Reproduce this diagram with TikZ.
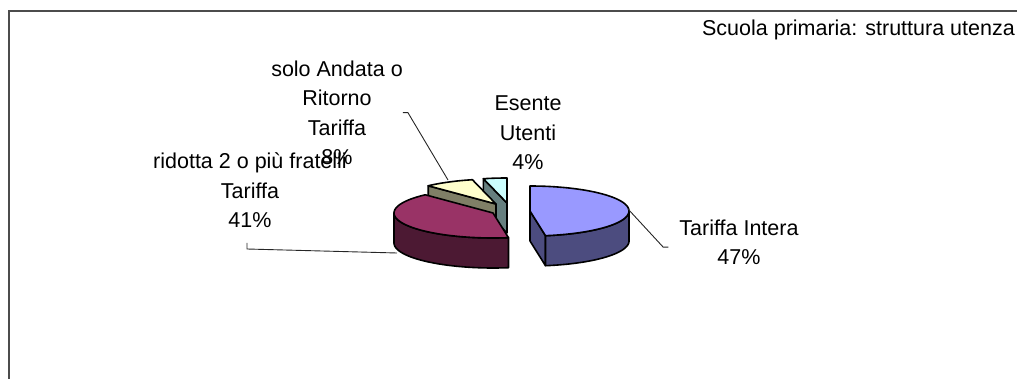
\documentclass[tikz,border=0pt]{standalone}
\usepackage{fontspec}
\setmainfont{Liberation Sans}

\definecolor{topblue}{HTML}{9999FF}
\definecolor{sideblue}{HTML}{4C4C7F}
\definecolor{topred}{HTML}{993366}
\definecolor{sidered}{HTML}{4C1933}
\definecolor{topyellow}{HTML}{FFFFCC}
\definecolor{sideyellow}{HTML}{7F7F66}
\definecolor{topcyan}{HTML}{CCFFFF}
\definecolor{sidecyan}{HTML}{667F7F}

\tikzset{
  slice/.style={draw=black, line width=1.6pt, line join=round},
  leader/.style={draw=black!85, line width=0.9pt},
  lbl/.style={font=\fontsize{21.5}{29.5}\selectfont, align=center, inner sep=0pt, anchor=south},
  frame/.style={draw=black!70, line width=1.3pt}
}

\begin{document}
\begin{tikzpicture}[x=1pt, y=-1pt]
	\useasboundingbox (0,0) rectangle (1017,379);

	% Define radii and depth of the pie
	\def\rx{99}
	\def\ry{25}
	\def\h{30}

	% Draw the frame
	\draw[frame] (1017,11) -- (9,11) -- (9,379);

	% Cyan slice (Esente Utenti)
	\def\cx{507}\def\cy{203}
	\filldraw[slice, fill=sidecyan] (\cx,\cy) -- ({\cx+\rx*sin(346.2)},{\cy-\ry*cos(346.2)}) -- ++(0,\h) -- (\cx,\cy+\h) -- cycle;
	\filldraw[slice, fill=topcyan] (\cx,\cy) -- plot[domain=346.2:360, samples=10, variable=\t] ({\cx+\rx*sin(\t)},{\cy-\ry*cos(\t)}) -- cycle;

	% Yellow slice (solo Andata o Ritorno)
	\def\cx{496}\def\cy{204}
	\filldraw[slice, fill=sideyellow] (\cx,\cy) -- ({\cx+\rx*sin(316.8)},{\cy-\ry*cos(316.8)}) -- ++(0,\h) -- (\cx,\cy+\h) -- cycle;
	\filldraw[slice, fill=topyellow] (\cx,\cy) -- plot[domain=316.8:346.2, samples=15, variable=\t] ({\cx+\rx*sin(\t)},{\cy-\ry*cos(\t)}) -- cycle;

	% Red slice (ridotta 2 o piu fratelli)
	\def\cx{493}\def\cy{213}
	\filldraw[slice, fill=sidered] plot[domain=171:270, samples=40, variable=\t] ({\cx+\rx*sin(\t)},{\cy-\ry*cos(\t)}) -- plot[domain=270:171, samples=40, variable=\t] ({\cx+\rx*sin(\t)},{\cy+\h-\ry*cos(\t)}) -- cycle;
	\filldraw[slice, fill=topred] (\cx,\cy) -- plot[domain=171:316.8, samples=50, variable=\t] ({\cx+\rx*sin(\t)},{\cy-\ry*cos(\t)}) -- cycle;

	% Blue slice (Tariffa Intera)
	\def\cx{530}\def\cy{211}
	\filldraw[slice, fill=sideblue] (\cx,\cy) -- ({\cx+\rx*sin(171)},{\cy-\ry*cos(171)}) -- ++(0,\h) -- (\cx,\cy+\h) -- cycle;
	\filldraw[slice, fill=sideblue] plot[domain=90:171, samples=40, variable=\t] ({\cx+\rx*sin(\t)},{\cy-\ry*cos(\t)}) -- plot[domain=171:90, samples=40, variable=\t] ({\cx+\rx*sin(\t)},{\cy+\h-\ry*cos(\t)}) -- cycle;
	\filldraw[slice, fill=topblue] (\cx,\cy) -- plot[domain=0:171, samples=60, variable=\t] ({\cx+\rx*sin(\t)},{\cy-\ry*cos(\t)}) -- cycle;

	% Labels
	\node[lbl, anchor=base east] (titolo) at (1015,36) {Scuola primaria: struttura utenza};
	\node[lbl] (lblIntera) at (739,265) {Tariffa Intera\\47\%};
	\node[lbl] (lblRidotta) at (250,228) {ridotta 2 o più fratelli\\Tariffa\\41\%};
	\node[lbl] (lblSolo) at (337,165) {solo Andata o\\Ritorno\\Tariffa\\8\%};
	\node[lbl] (lblEsente) at (528,170) {Esente\\Utenti\\4\%};

	% Leader lines
	\coordinate (tipIntera) at (628,209);
	\coordinate (tipRidotta) at (397,253);
	\coordinate (tipSolo) at (448,180);
	\draw[leader] ([shift={(-11,5)}]lblIntera.west) -- ++(-5,0) -- (tipIntera);
	\draw[leader] ([shift={(-3,15)}]lblRidotta.south) -- ++(0,6) -- (tipRidotta);
	\draw[leader] (lblSolo.east) -- ++(5,0) -- (tipSolo);
\end{tikzpicture}
\end{document}
